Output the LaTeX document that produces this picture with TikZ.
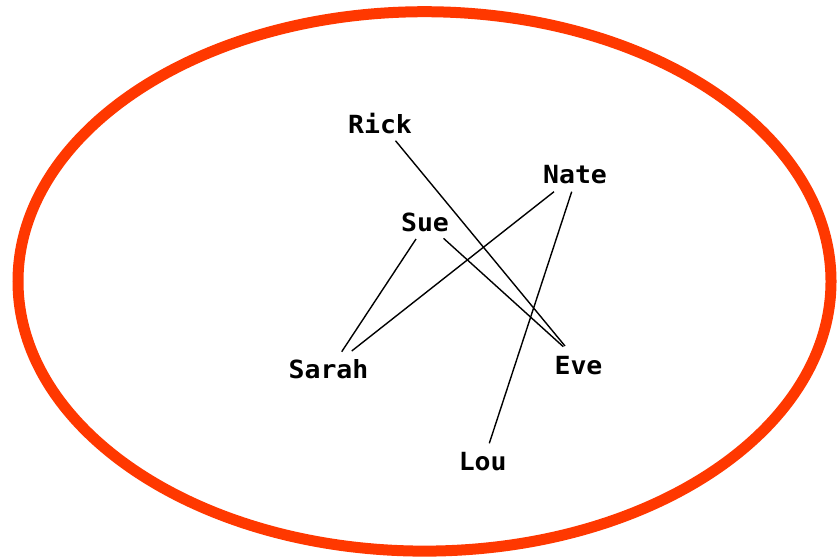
\documentclass[tikz,border=0pt]{standalone}
\usepackage{fontspec}
\newfontfamily\labelfont[FakeStretch=1.06]{DejaVu Sans Mono Bold}
\definecolor{ringred}{RGB}{255,56,0}
\begin{document}
\begin{tikzpicture}[x=1pt,y=-1pt,
  person/.style={anchor=base,inner sep=0pt,font=\labelfont\fontsize{25}{25}\selectfont},
  tie/.style={draw=black,line width=1.4pt},
  ring/.style={draw=ringred,line width=11pt}]
\useasboundingbox (0,0) rectangle (837,558);
\fill[white] (0,0) rectangle (837,558);
\draw[ring] (424.5,281.4) ellipse [x radius=406.5,y radius=269.7];
\node[person] (rick) at (380,133) {Rick};
\node[person] (nate) at (575,183) {Nate};
\node[person] (sue) at (425,231.7) {Sue};
\node[person] (sarah) at (328.5,378) {Sarah};
\node[person] (eve) at (578.5,374) {Eve};
\node[person] (lou) at (482.7,470.7) {Lou};
\draw[tie] ([shift={(15.5,7.7)}]rick.base) -- ([shift={(-13.5,-28)}]eve.base);
\draw[tie] ([shift={(18.5,6.6)}]sue.base) -- ([shift={(-15.2,-27.3)}]eve.base);
\draw[tie] ([shift={(-9,7.3)}]sue.base) -- ([shift={(13.2,-26.3)}]sarah.base);
\draw[tie] ([shift={(-21,8.7)}]nate.base) -- ([shift={(23.2,-27)}]sarah.base);
\draw[tie] ([shift={(-3.3,8.7)}]nate.base) -- ([shift={(6.6,-27.4)}]lou.base);
\end{tikzpicture}
\end{document}
